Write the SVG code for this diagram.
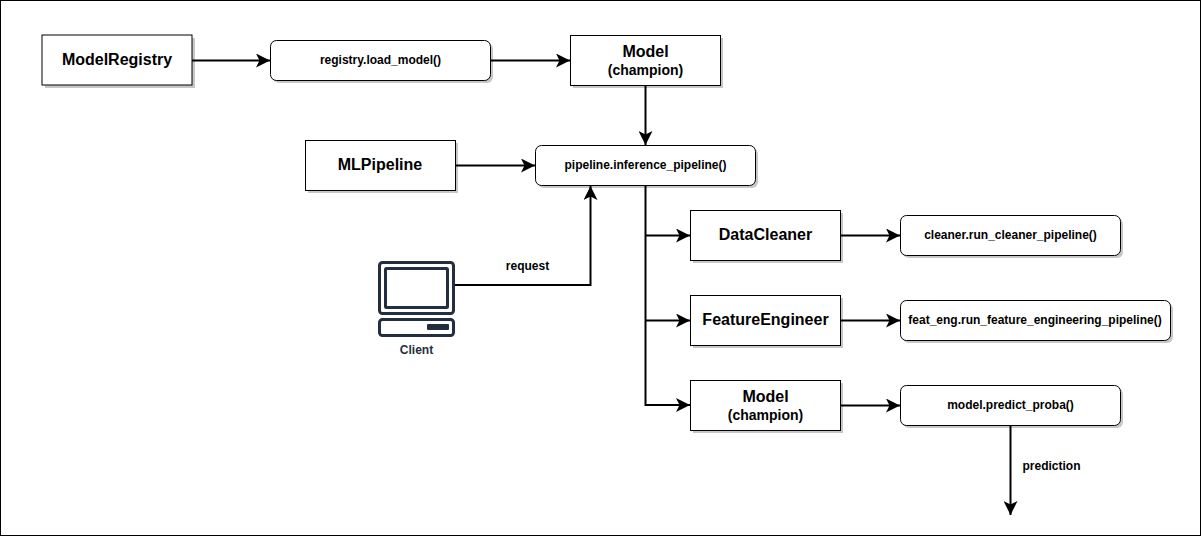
<svg xmlns="http://www.w3.org/2000/svg" width="1201" height="536" viewBox="0 0 1201 536">
<style>
text{font-family:"Liberation Sans",Arial,sans-serif;font-weight:bold;fill:#000;text-anchor:middle}
.n{fill:#fff;stroke:#000;stroke-width:1}
.s{fill:#000;opacity:.22}
.big{font-size:16px}.mid{font-size:14px}.sm{font-size:12px}
.c{fill:none;stroke:#000;stroke-width:2}
</style>
<defs>
<marker id="a" markerUnits="userSpaceOnUse" markerWidth="14" markerHeight="14" refX="12" refY="6" orient="auto" viewBox="0 0 12 12"><path d="M0 0L12 6L0 12L3 6Z" fill="#000"/></marker>
</defs>
<rect x="0.5" y="0.5" width="1200" height="535" fill="#fff" stroke="#000"/>
<g id="connectors">
<path class="c" marker-end="url(#a)" d="M192 60.500H270"/>
<path class="c" marker-end="url(#a)" d="M491 60.500H570"/>
<path class="c" marker-end="url(#a)" d="M645.500 85V145"/>
<path class="c" marker-end="url(#a)" d="M455 165.500H535"/>
<path class="c" marker-end="url(#a)" d="M455 285H590.500V186"/>
<path class="c" marker-end="url(#a)" d="M645.500 185V405H690"/>
<path class="c" marker-end="url(#a)" d="M645.500 235.500H690"/>
<path class="c" marker-end="url(#a)" d="M645.500 320.500H690"/>
<path class="c" marker-end="url(#a)" d="M840 235.500H900"/>
<path class="c" marker-end="url(#a)" d="M840 320.500H900"/>
<path class="c" marker-end="url(#a)" d="M840 405.500H900"/>
<path class="c" marker-end="url(#a)" d="M1010.500 425V515"/>
<text class="sm" x="527.500" y="270">request</text>
<text class="sm" x="1051.500" y="470">prediction</text>
</g>
<g id="modelregistry"><rect class="s" x="45" y="38" width="150" height="50"/><rect class="n" x="42" y="35" width="150" height="50"/><text class="big" x="117" y="65">ModelRegistry</text></g>
<g id="load_model"><rect class="s" x="273" y="43" width="220" height="40" rx="6"/><rect class="n" x="270.500" y="40.500" width="220" height="40" rx="6"/><text class="sm" x="380.500" y="64">registry.load_model()</text></g>
<g id="model1"><rect class="s" x="573" y="38" width="150" height="50"/><rect class="n" x="570.500" y="35.500" width="150" height="50"/><text class="big" x="645.500" y="57">Model</text><text class="mid" x="645.500" y="75">(champion)</text></g>
<g id="mlpipeline"><rect class="s" x="308" y="143" width="150" height="50"/><rect class="n" x="305.500" y="140.500" width="150" height="50"/><text class="big" x="380" y="170">MLPipeline</text></g>
<g id="inference"><rect class="s" x="538" y="148" width="220" height="40" rx="6"/><rect class="n" x="535.500" y="145.500" width="220" height="40" rx="6"/><text class="sm" x="645.500" y="169">pipeline.inference_pipeline()</text></g>
<g id="client">
<rect x="379.500" y="262.500" width="74" height="51" rx="3" fill="#fff" stroke="#232f3e" stroke-width="3"/>
<rect x="385.500" y="268.500" width="62" height="39" rx="1" fill="#fff" stroke="#232f3e" stroke-width="3"/>
<rect x="379.500" y="319.500" width="74" height="16" rx="3" fill="#fff" stroke="#232f3e" stroke-width="3"/>
<rect x="427" y="324" width="22" height="6" rx="1" fill="#232f3e"/>
<text class="sm" x="416.500" y="354" style="fill:#232f3e">Client</text>
</g>
<g id="datacleaner"><rect class="s" x="693" y="213" width="150" height="50"/><rect class="n" x="690.500" y="210.500" width="150" height="50"/><text class="big" x="765.500" y="240">DataCleaner</text></g>
<g id="cleaner_run"><rect class="s" x="903" y="218" width="220" height="40" rx="6"/><rect class="n" x="900.500" y="215.500" width="220" height="40" rx="6"/><text class="sm" x="1010.500" y="239">cleaner.run_cleaner_pipeline()</text></g>
<g id="featureengineer"><rect class="s" x="693" y="298" width="150" height="50"/><rect class="n" x="690.500" y="295.500" width="150" height="50"/><text class="big" x="765.500" y="325">FeatureEngineer</text></g>
<g id="feat_run"><rect class="s" x="903" y="303" width="270" height="40" rx="6"/><rect class="n" x="900.500" y="300.500" width="270" height="40" rx="6"/><text class="sm" x="1035" y="324">feat_eng.run_feature_engineering_pipeline()</text></g>
<g id="model2"><rect class="s" x="693" y="383" width="150" height="50"/><rect class="n" x="690.500" y="380.500" width="150" height="50"/><text class="big" x="765.500" y="402">Model</text><text class="mid" x="765.500" y="420">(champion)</text></g>
<g id="predict"><rect class="s" x="903" y="388" width="220" height="40" rx="6"/><rect class="n" x="900.500" y="385.500" width="220" height="40" rx="6"/><text class="sm" x="1010.500" y="409">model.predict_proba()</text></g>
</svg>
